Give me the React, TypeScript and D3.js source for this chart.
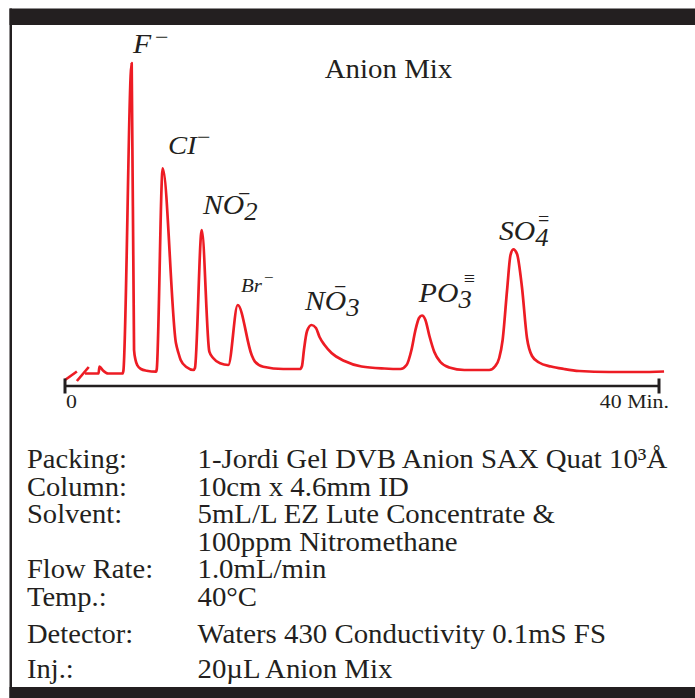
import React from "react";
import * as d3 from "d3";

// chromatogram trace: [retention time (min), detector response (a.u.)]
const injectionTrace: [number, number][] = [
  [1.35, 2.5], [2.26, 2.5], [2.32, 9.5], [2.56, 5.5], [2.9, 2.5], [3.87, 2.5],
];
const fluorideTrace: [number, number][] = [
  [3.93, 5], [4.49, 313], [4.65, 26], [4.75, 16], [4.88, 10.5], [5.12, 7], [5.5, 5.3], [6.13, 4.3],
];
const chlorideTrace: [number, number][] = [
  [6.18, 7], [6.58, 207.7], [7.47, 33], [7.64, 23], [7.79, 16], [8.2, 8.7], [8.65, 6],
];
const nitriteTrace: [number, number][] = [
  [8.75, 8], [9.21, 146], [9.72, 24.3], [9.99, 17.7], [10.44, 12.7], [11.0, 11],
];
const bromideTrace: [number, number][] = [
  [11.63, 71], [12.57, 21], [12.79, 14.3], [13.35, 9.3], [14.7, 7], [15.82, 7],
];
const nitrateTrace: [number, number][] = [
  [15.96, 10], [16.09, 26], [16.3, 45], [16.6, 51], [16.9, 48], [17.14, 39], [17.48, 31],
  [17.95, 23], [18.82, 15], [19.97, 9.5], [21.51, 7.5], [22.59, 7],
];
const phosphateTrace: [number, number][] = [
  [23.0, 11], [23.33, 26], [23.6, 46], [23.84, 58], [24.04, 60.5], [24.27, 56], [24.54, 40],
  [24.87, 24], [25.28, 14], [25.88, 8.5], [26.89, 6], [28.57, 6],
];
const sulfateTrace: [number, number][] = [
  [28.98, 10], [29.24, 18], [29.47, 36], [29.77, 86], [30.0, 121], [30.19, 126.7], [30.44, 122],
  [30.77, 89], [31.11, 38], [31.45, 20], [31.92, 13.5], [32.73, 9.5], [33.61, 7], [34.62, 5],
  [36.64, 4], [38.66, 4], [40.34, 4.5],
];

// axis break marks drawn at the start of the trace
const breakMarks: [number, number][][] = [
  [[0, -4], [0.8, 4.5]],
  [[0.8, -5], [1.6, 9]],
];

const axisTicks = [0, 40];
const axisTickLabels = ["0", "40 Min."];

const peakNames = ["F", "CI", "NO", "Br", "NO", "PO", "SO"];
const peakSubs = ["", "", "2", "", "3", "3", "4"];
const peakCharges = ["−", "−", "−", "−", "−", "≡", "="];
const peakApexTimes = [4.49, 6.58, 9.21, 11.63, 16.6, 24.04, 30.19];
const peakApexSignals = [313, 207.7, 146, 71, 51, 60.5, 126.7];

const title = "Anion Mix";
const infoLabels = ["Packing:", "Column:", "Solvent:", "", "Flow Rate:", "Temp.:", "Detector:", "Inj.:"];
const infoValues = [
  "1-Jordi Gel DVB Anion SAX Quat 10³Å",
  "10cm x 4.6mm ID",
  "5mL/L EZ Lute Concentrate &",
  "100ppm Nitromethane",
  "1.0mL/min",
  "40°C",
  "Waters 430 Conductivity 0.1mS FS",
  "20µL Anion Mix",
];

// layout
const W = 695;
const H = 698;
const RED = "#ed1c24";
const INK = "#231f20";
const FONT = "'Liberation Serif', 'Times New Roman', serif";
const axisY = 386;
const infoRowY = [468, 495.5, 523, 550.5, 578, 605.5, 643, 678];
// label offsets from the peak apex: [dx, dy, fontSize, chargeDx, chargeDy, chargeSize]
const labelLayout: [number, number, number, number, number, number][] = [
  [1.3, -10, 27, 22, -8.5, 24],
  [5.3, -14.3, 26, 29, -9.5, 24],
  [1.3, -16, 27, 35, -13.5, 22],
  [3.3, -13.3, 19, 23, -9, 17],
  [-6.5, -15, 27, 29, -16.5, 22],
  [-3.2, -13.8, 27, 45, -17, 20],
  [-14.3, -9.3, 27, 39, -14, 20],
];

const App = () => {
  const x = d3.scaleLinear().domain([0, 40]).range([65, 659]);
  const y = d3.scaleLinear().domain([0, 320]).range([376, 56]);

  const trace = [
    ...injectionTrace,
    ...fluorideTrace,
    ...chlorideTrace,
    ...nitriteTrace,
    ...bromideTrace,
    ...nitrateTrace,
    ...phosphateTrace,
    ...sulfateTrace,
  ];

  const line = d3
    .line<[number, number]>()
    .x((d) => x(d[0]))
    .y((d) => y(d[1]))
    .curve(d3.curveMonotoneX);
  const straight = d3
    .line<[number, number]>()
    .x((d) => x(d[0]))
    .y((d) => y(d[1]));

  return (
    <svg
      width={W}
      height={H}
      style={{ position: "absolute", left: 0, top: 0, display: "block" }}
      fontFamily={FONT}
    >
      <rect x={0} y={0} width={W} height={H} fill="#fff" />
      {/* frame */}
      <rect x={9.5} y={8.5} width={W - 9.5} height={16.5} fill={INK} />
      <rect x={9.5} y={8.5} width={2.5} height={H - 8.5} fill={INK} />
      <rect x={9.5} y={687} width={W - 9.5} height={H - 687} fill={INK} />

      {/* title */}
      <g transform={`translate(388.5,78) scale(1.07,1)`}>
        <text textAnchor="middle" fontSize={27} fill={INK}>
          {title}
        </text>
      </g>

      {/* trace */}
      <path d={line(trace) || ""} fill="none" stroke={RED} strokeWidth={2.7} strokeLinejoin="round" />
      {breakMarks.map((m, i) => (
        <path key={i} d={straight(m) || ""} stroke={RED} strokeWidth={2.7} fill="none" />
      ))}

      {/* peak labels */}
      {peakNames.map((name, i) => {
        const [dx, dy, fs, cdx, cdy, cfs] = labelLayout[i];
        const px = x(peakApexTimes[i]) + dx;
        const py = y(peakApexSignals[i]) + dy;
        return (
          <g key={i} transform={`translate(${px},${py})`} fill={INK}>
            <text transform="scale(1.1,1)" fontStyle="italic" fontSize={fs}>
              {name}
              {peakSubs[i] && (
                <tspan dy={6} fontSize={fs * 0.9}>
                  {peakSubs[i]}
                </tspan>
              )}
            </text>
            <text x={cdx} y={cdy} fontSize={cfs}>
              {peakCharges[i]}
            </text>
          </g>
        );
      })}

      {/* time axis */}
      <line x1={x(0)} x2={x(40)} y1={axisY} y2={axisY} stroke={INK} strokeWidth={2.5} />
      {axisTicks.map((t) => (
        <line key={t} x1={x(t)} x2={x(t)} y1={axisY - 7.5} y2={axisY + 7.5} stroke={INK} strokeWidth={3} />
      ))}
      {axisTickLabels.map((lab, i) => (
        <g
          key={lab}
          transform={`translate(${i === 0 ? x(axisTicks[i]) + 1 : x(axisTicks[i]) + 10},408) scale(1.12,1)`}
        >
          <text fontSize={19.5} textAnchor={i === 0 ? "start" : "end"} fill={INK}>
            {lab}
          </text>
        </g>
      ))}

      {/* method conditions */}
      {infoRowY.map((ry, i) => (
        <g key={i} fill={INK} fontSize={28}>
          <g transform={`translate(27,${ry}) scale(1.02,1)`}>
            <text>{infoLabels[i]}</text>
          </g>
          <g transform={`translate(197.5,${ry}) scale(1.03,1)`}>
            <text>{infoValues[i]}</text>
          </g>
        </g>
      ))}
    </svg>
  );
};

export default App;
